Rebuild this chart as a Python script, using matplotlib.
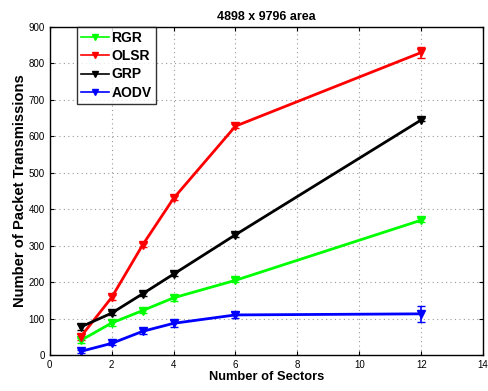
import matplotlib
matplotlib.use('Agg')
import matplotlib.pyplot as plt
import numpy as np

plt.rcParams['font.family'] = ['Liberation Sans', 'DejaVu Sans']

sectors = [1, 2, 3, 4, 6, 12]
rgr = [40, 88, 122, 157, 205, 370]
rgr_err = [8, 8, 6, 8, 5, 6]
olsr = [50, 158, 302, 430, 628, 830]
olsr_err = [8, 8, 6, 6, 6, 16]
grp = [77, 115, 168, 222, 330, 645]
grp_err = [8, 6, 5, 6, 5, 4]
aodv = [10, 32, 65, 87, 110, 113]
aodv_err = [4, 5, 6, 10, 8, 22]

series = [('RGR', rgr, rgr_err, '#00ff00'),
          ('OLSR', olsr, olsr_err, '#ff0000'),
          ('GRP', grp, grp_err, 'black'),
          ('AODV', aodv, aodv_err, '#0000ff')]

fig = plt.figure(figsize=(4.88, 3.91), dpi=100)
ax = fig.add_axes([0.102, 0.092, 0.888, 0.839])
for name, vals, err, col in series:
    ax.errorbar(sectors, vals, yerr=err, color=col, marker='v', markersize=6,
                linewidth=2, capsize=3, elinewidth=1.2, label=name)

ax.set_xlim(0, 14)
ax.set_ylim(0, 900)
ax.set_xticks(range(0, 15, 2))
ax.set_yticks(range(0, 901, 100))
ax.tick_params(direction='in', labelsize=7, top=True, right=True, length=3)
ax.grid(True, linestyle=(0, (1, 3)), color='#999999', linewidth=0.8)
ax.set_xlabel('Number of Sectors', fontsize=9.3, fontweight='bold', labelpad=1)
ax.set_ylabel('Number of Packet Transmissions', fontsize=10.6, fontweight='bold', labelpad=1)
ax.set_title('4898 x 9796 area', fontsize=9, fontweight='bold', pad=5)
for s in ax.spines.values():
    s.set_linewidth(1)

handles = [plt.Line2D([], [], color=col, marker='v', markersize=4, linewidth=1.2)
           for _, _, _, col in series]
leg = ax.legend(handles, [s[0] for s in series], loc='upper left',
                bbox_to_anchor=(0.062, 1.0), borderaxespad=0, fancybox=False,
                edgecolor='black', prop={'weight': 'bold', 'size': 10},
                handlelength=2.0, handletextpad=0.2, borderpad=0.3, labelspacing=0.3)
leg.get_frame().set_linewidth(1)
fig.savefig('out.png', dpi=100)
